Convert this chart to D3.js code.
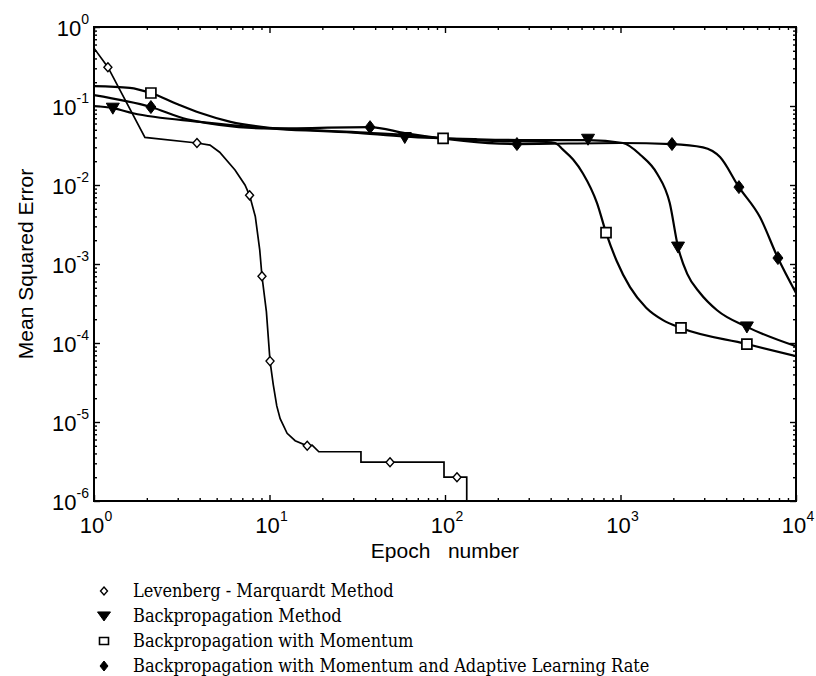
<!DOCTYPE html>
<html><head><meta charset="utf-8">
<script src="https://cdn.jsdelivr.net/npm/d3@7"></script>
<style>
body{margin:0;background:#fff;}
svg{display:block;}
</style></head>
<body>
<svg id="chart" width="816" height="676"></svg>
<script>
// ---- data (epoch, MSE) ----
const seriesNames = [
  "Levenberg - Marquardt Method",
  "Backpropagation Method",
  "Backpropagation with Momentum",
  "Backpropagation with Momentum and Adaptive Learning Rate"
];
const lmLine = [[1,0.54],[1.2,0.31],[1.95,0.04],[3.86,0.034],[4.58,0.032],[5.2,0.026],[6.36,0.0155],[7.25,0.01],[7.7,0.0074],[8.3,0.004],[8.8,0.0015],[9.06,7e-4],[9.6,2.5e-4],[10.07,5.9e-5],[10.5,3e-5],[11.0,1.6e-5],[11.5,1.1e-5],[12.6,7.2e-6],[14,5.8e-6],[16.4,5e-6],[17.5,5.1e-6],[19.1,4.2e-6],[33.2,4.2e-6],[33.2,3.1e-6],[98.7,3.1e-6],[98.7,2.0e-6],[133,2.0e-6],[133,5e-7]];
const lmMarks = [[1.2,0.31],[3.86,0.034],[7.7,0.0074],[9.06,7e-4],[10.07,5.9e-5],[16.4,5e-6],[48.6,3.1e-6],[117,2e-6]];

const bpLine = [[1,0.1],[1.28,0.094],[1.67,0.081],[4,0.063],[11.5,0.051],[30,0.046],[59,0.041],[150,0.038],[300,0.037],[653,0.037],[1033,0.034],[1300,0.024],[1614,0.014],[1908,0.0059],[2127,0.00164],[2400,7.5e-4],[2838,4.3e-4],[3550,2.6e-4],[5250,1.6e-4],[10000,9.1e-5]];
const bpMarks = [[1.28,0.094],[59,0.040],[653,0.038],[2127,0.00164],[5250,1.6e-4]];

const bpmLine = [[1,0.179],[1.6,0.17],[2.11,0.146],[3,0.105],[4,0.082],[6,0.063],[10,0.053],[20,0.049],[50,0.044],[97.5,0.039],[200,0.036],[380,0.035],[424,0.034],[470,0.028],[537,0.021],[611,0.014],[735,0.0059],[827,0.0025],[950,0.0011],[1133,5.1e-4],[1400,2.8e-4],[1746,1.95e-4],[2212,1.55e-4],[5250,9.7e-5],[10000,6.8e-5]];
const bpmMarks = [[2.11,0.146],[97.5,0.039],[827,0.0025],[2212,1.55e-4],[5250,9.7e-5]];

const bpaLine = [[1,0.137],[2.11,0.097],[3.39,0.068],[10,0.052],[37.4,0.054],[60,0.045],[257,0.033],[1000,0.034],[1965,0.033],[2950,0.030],[3690,0.0226],[4730,0.0094],[6240,0.0039],[7890,0.00119],[10000,4.3e-4]];
const bpaMarks = [[2.11,0.097],[37.4,0.054],[257,0.033],[1965,0.033],[4730,0.0094],[7890,0.00119]];

const xTickExps = [0,1,2,3,4];
const yTickExps = [0,-1,-2,-3,-4,-5,-6];
const xLabel = "Epoch   number";
const yLabel = "Mean Squared Error";

// ---- layout ----
const L = 94, R = 796, T = 27, B = 501;
const svg = d3.select("#chart");
const x = d3.scaleLog().domain([1, 1e4]).range([L, R]);
const y = d3.scaleLog().domain([1e-6, 1]).range([B, T]);

svg.append("defs").append("clipPath").attr("id","clip")
  .append("rect").attr("x",L).attr("y",T).attr("width",R-L).attr("height",B-T);

// ---- ticks (all four sides, inward) ----
const xMinor = [], yMinor = [];
for (let e = 0; e < 4; e++) for (let k = 2; k <= 9; k++) xMinor.push(k*Math.pow(10,e));
for (let e = -6; e < 0; e++) for (let k = 2; k <= 9; k++) yMinor.push(k*Math.pow(10,e));
const xMajor = xTickExps.map(e => Math.pow(10,e));
const yMajor = yTickExps.map(e => Math.pow(10,e));

const axG = svg.append("g").attr("fill","none").attr("stroke","#000");
axG.append("g").attr("transform",`translate(0,${B})`)
  .call(d3.axisTop(x).tickValues(xMinor).tickSize(3).tickFormat(""));
axG.append("g").attr("transform",`translate(0,${B})`)
  .call(d3.axisTop(x).tickValues(xMajor).tickSize(6).tickFormat(""));
axG.append("g").attr("transform",`translate(0,${T})`)
  .call(d3.axisBottom(x).tickValues(xMinor).tickSize(3).tickFormat(""));
axG.append("g").attr("transform",`translate(0,${T})`)
  .call(d3.axisBottom(x).tickValues(xMajor).tickSize(6).tickFormat(""));
axG.append("g").attr("transform",`translate(${L},0)`)
  .call(d3.axisRight(y).tickValues(yMinor).tickSize(3).tickFormat(""));
axG.append("g").attr("transform",`translate(${L},0)`)
  .call(d3.axisRight(y).tickValues(yMajor).tickSize(6).tickFormat(""));
axG.append("g").attr("transform",`translate(${R},0)`)
  .call(d3.axisLeft(y).tickValues(yMinor).tickSize(3).tickFormat(""));
axG.append("g").attr("transform",`translate(${R},0)`)
  .call(d3.axisLeft(y).tickValues(yMajor).tickSize(6).tickFormat(""));
svg.selectAll(".domain").remove();
svg.selectAll(".tick line").attr("stroke","#000").attr("stroke-width",1.4);

svg.append("rect").attr("x",L).attr("y",T).attr("width",R-L).attr("height",B-T)
  .attr("fill","none").attr("stroke","#000").attr("stroke-width",2);

// ---- tick labels ----
const tf = "Liberation Sans, Arial, sans-serif";
const baseFS = 22, supFS = 14;
xTickExps.forEach(e => {
  const cx = x(Math.pow(10,e)) - 2;
  svg.append("text").attr("x", cx).attr("y", B + 32)
    .attr("font-family", tf).attr("font-size", baseFS).attr("text-anchor","middle").text("10");
  svg.append("text").attr("x", cx + 12.5).attr("y", B + 20)
    .attr("font-family", tf).attr("font-size", supFS).attr("text-anchor","start").text(String(e));
});
yTickExps.forEach(e => {
  const t = svg.append("text").attr("x", L - 5).attr("y", y(Math.pow(10,e)) + 9)
    .attr("font-family", tf).attr("font-size", baseFS).attr("text-anchor","end");
  t.append("tspan").text("10");
  t.append("tspan").attr("dy",-12).attr("font-size",supFS).text(String(e));
});

svg.append("text").attr("x", (L+R)/2).attr("y", 558)
  .attr("font-family", tf).attr("font-size", 21).attr("text-anchor","middle")
  .attr("xml:space","preserve").style("white-space","pre").text(xLabel);
svg.append("text").attr("transform", `translate(33,264) rotate(-90)`)
  .attr("font-family", tf).attr("font-size", 21).attr("text-anchor","middle").text(yLabel);

// ---- lines ----
const plot = svg.append("g").attr("clip-path","url(#clip)");
const lineLin = d3.line().x(d => x(d[0])).y(d => y(d[1]));
const lineSm = d3.line().x(d => x(d[0])).y(d => y(d[1])).curve(d3.curveMonotoneX);
plot.append("path").datum(lmLine).attr("d", lineLin).attr("fill","none").attr("stroke","#000").attr("stroke-width",1.7);
[bpLine, bpmLine, bpaLine].forEach(s => {
  plot.append("path").datum(s).attr("d", lineSm).attr("fill","none").attr("stroke","#000").attr("stroke-width",2.2);
});

// ---- markers ----
function diamondPath(w,h){ return `M0,${-h}L${w},0L0,${h}L${-w},0Z`; }
function triPath(w,h){ return `M${-w},${-h*0.45}L${w},${-h*0.45}L0,${h*0.55}Z`; }
function rectPath(w,h){ return `M${-w},${-h}H${w}V${h}H${-w}Z`; }

plot.selectAll(".mLM").data(lmMarks).join("path")
  .attr("transform", d => `translate(${x(d[0])},${y(d[1])})`)
  .attr("d", diamondPath(4,4.5)).attr("fill","#fff").attr("stroke","#000").attr("stroke-width",1.4);
plot.selectAll(".mBP").data(bpMarks).join("path")
  .attr("transform", d => `translate(${x(d[0])},${y(d[1])})`)
  .attr("d", triPath(6.5,11)).attr("fill","#000").attr("stroke","#000");
plot.selectAll(".mBPM").data(bpmMarks).join("path")
  .attr("transform", d => `translate(${x(d[0])},${y(d[1])})`)
  .attr("d", rectPath(5,5)).attr("fill","#fff").attr("stroke","#000").attr("stroke-width",1.7);
plot.selectAll(".mBPA").data(bpaMarks).join("path")
  .attr("transform", d => `translate(${x(d[0])},${y(d[1])})`)
  .attr("d", diamondPath(5,6.5)).attr("fill","#000").attr("stroke","#000");

// ---- legend ----
const legY = [597, 622, 647, 672];
const legShapes = [
  {d: diamondPath(3.5,4), fill:"#fff", sw:1.4},
  {d: triPath(6.5,9), fill:"#000", sw:1},
  {d: rectPath(4.5,3.5), fill:"#fff", sw:1.6},
  {d: diamondPath(4,5), fill:"#000", sw:1}
];
const lg = svg.append("g");
seriesNames.forEach((name, i) => {
  lg.append("path").attr("transform", `translate(104,${legY[i]-6})`)
    .attr("d", legShapes[i].d).attr("fill", legShapes[i].fill).attr("stroke","#000").attr("stroke-width", legShapes[i].sw);
  lg.append("text").attr("x", 133).attr("y", legY[i])
    .attr("font-family","DejaVu Serif Condensed, DejaVu Serif, serif").attr("font-stretch","condensed")
    .attr("font-size", 18).text(name);
});
</script>
</body></html>
